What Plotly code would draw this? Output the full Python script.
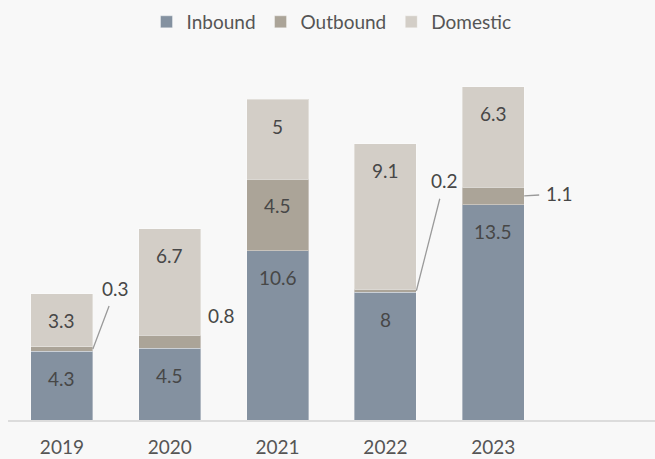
import plotly.graph_objects as go

years = ["2019", "2020", "2021", "2022", "2023"]
inbound = [4.3, 4.5, 10.6, 8, 13.5]
outbound = [0.3, 0.8, 4.5, 0.2, 1.1]
domestic = [3.3, 6.7, 5, 9.1, 6.3]

colors = {"Inbound": "#8491a0", "Outbound": "#aba498", "Domestic": "#d3cec7"}
FONT = "Lato, 'Noto Sans', sans-serif"
TXT = "#474747"
BG = "#f8f8f8"
BARW = 0.574

fig = go.Figure()
for name, vals in [("Inbound", inbound), ("Outbound", outbound), ("Domestic", domestic)]:
    fig.add_trace(go.Bar(
        x=list(range(len(years))), y=vals, name=name, width=BARW,
        marker=dict(color=colors[name], line=dict(color="rgba(255,255,255,0.35)", width=1)),
        hoverinfo="skip",
    ))

ann = []
for i in range(len(years)):
    top_in = inbound[i]
    top_out = inbound[i] + outbound[i]
    top_dom = top_out + domestic[i]
    for v, top in [(inbound[i], top_in), (domestic[i], top_dom)]:
        ann.append(dict(x=i, y=top, text=f"{v:g}", showarrow=False, yshift=-27,
                        font=dict(size=19, color=TXT, family=FONT)))
    if outbound[i] >= 2:
        ann.append(dict(x=i, y=top_out, text=f"{outbound[i]:g}", showarrow=False, yshift=-26,
                        font=dict(size=19, color=TXT, family=FONT)))

callouts = {0: (23, -61, True), 1: (21, -26, False), 3: (28, -110, True), 4: (35, -2, True)}
for i, (dx, dy, line) in callouts.items():
    ymid = inbound[i] + outbound[i] / 2
    if line:
        ann.append(dict(x=i + BARW / 2, y=ymid, text=f"{outbound[i]:g}", showarrow=True,
                        ax=dx, ay=dy, arrowhead=0, arrowwidth=1.3, arrowcolor="#9a9a9a",
                        standoff=0, borderpad=6,
                        font=dict(size=19, color=TXT, family=FONT)))
    else:
        ann.append(dict(x=i + BARW / 2, y=ymid, text=f"{outbound[i]:g}", showarrow=False,
                        xshift=dx, yshift=-dy,
                        font=dict(size=19, color=TXT, family=FONT)))

fig.update_layout(
    width=655, height=459,
    barmode="stack", bargap=1 - BARW,
    paper_bgcolor=BG, plot_bgcolor=BG,
    margin=dict(l=8, r=0, t=69, b=39, autoexpand=False),
    font=dict(family=FONT, color=TXT),
    showlegend=True,
    legend=dict(orientation="h", x=0.5, xanchor="center", y=1.134, yanchor="middle",
                traceorder="normal", font=dict(size=19, color="#555555", family=FONT),
                bgcolor="rgba(0,0,0,0)", itemwidth=30),
    xaxis=dict(tickmode="array", tickvals=list(range(len(years))), ticktext=years,
               range=[-0.5, 5.5], showline=True, linecolor="#dcdcdc", linewidth=2,
               showgrid=False, zeroline=False, ticks="", ticklabelstandoff=9,
               automargin=False,
               tickfont=dict(size=19, color="#555555", family=FONT), fixedrange=True),
    yaxis=dict(range=[0, 22], visible=False, showgrid=False, zeroline=False, automargin=False),
    annotations=ann,
)

fig.write_html(
    "out.html",
    config={"displayModeBar": False},
    post_script="document.body.style.margin='0';document.body.style.background='%s';" % BG,
)
